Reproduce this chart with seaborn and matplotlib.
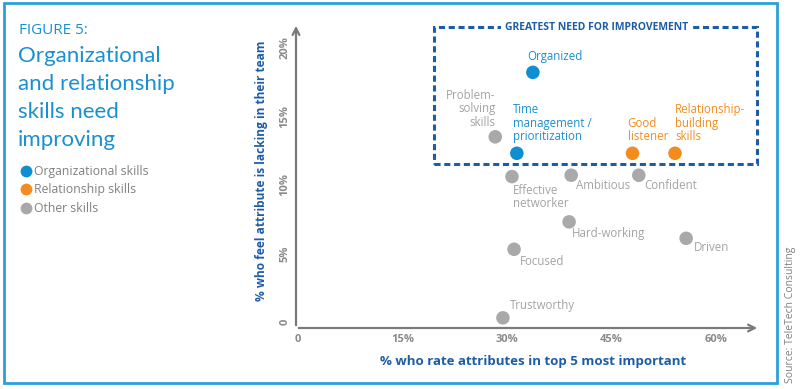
import matplotlib
matplotlib.use('Agg')
import matplotlib.pyplot as plt
import seaborn as sns
import pandas as pd
from matplotlib.patches import Rectangle

# Data (% values)
skills = ['Organized', 'Problem-\nsolving\nskills', 'Time\nmanagement /\nprioritization',
          'Good\nlistener', 'Relationship-\nbuilding\nskills', 'Effective\nnetworker',
          'Ambitious', 'Confident', 'Hard-working', 'Driven', 'Focused', 'Trustworthy']
top5_pct = [33.7, 28.3, 31.4, 48.0, 54.1, 30.7, 39.2, 48.9, 38.9, 55.7, 31.0, 29.4]
lacking_pct = [18.2, 13.5, 12.3, 12.3, 12.3, 10.6, 10.7, 10.7, 7.3, 6.1, 5.3, 0.3]
groups = ['Organizational skills', 'Other skills', 'Organizational skills',
          'Relationship skills', 'Relationship skills', 'Other skills',
          'Other skills', 'Other skills', 'Other skills', 'Other skills',
          'Other skills', 'Other skills']
group_order = ['Organizational skills', 'Relationship skills', 'Other skills']
x_ticks = [0, 15, 30, 45, 60]
x_ticklabels = ['0', '15%', '30%', '45%', '60%']
y_ticks = [0, 5, 10, 15, 20]
y_ticklabels = ['0', '5%', '10%', '15%', '20%']

df = pd.DataFrame({'skill': skills, 'top5': top5_pct, 'lacking': lacking_pct, 'group': groups})

BLUE = '#0f8fd2'
ORANGE = '#f28c1e'
GREY = '#a9a9ab'
DARK = '#1d5da6'
TITLE = '#1a90d0'
palette = {'Organizational skills': BLUE, 'Relationship skills': ORANGE, 'Other skills': GREY}
text_col = {'Organizational skills': '#1a8fcf', 'Relationship skills': ORANGE, 'Other skills': '#a3a3a5'}

sns.set_style('white')
plt.rcParams['font.family'] = ['Open Sans', 'DejaVu Sans']

fig = plt.figure(figsize=(8, 3.89), dpi=100)
ax = fig.add_axes([296 / 800, 1 - 328 / 389, 464 / 800, 305 / 389])

sns.scatterplot(data=df, x='top5', y='lacking', hue='group', hue_order=group_order,
                palette=palette, s=95, edgecolor='none', ax=ax, legend=True, zorder=3)

ax.set_xlim(-0.3, 66.3)
ax.set_ylim(-0.44, 21.8)
for sp in ax.spines.values():
    sp.set_visible(False)
ax.set_xticks(x_ticks)
ax.set_xticklabels(x_ticklabels, fontsize=8, color='#8a8a8a', fontweight='bold')
ax.set_yticks(y_ticks)
ax.set_yticklabels(y_ticklabels, fontsize=8, color='#8a8a8a', fontweight='bold',
                   rotation=90, va='center')
ax.tick_params(length=0, pad=4)

# axis arrows
arrow = dict(arrowstyle='->', color='#7a7a7a', lw=1.6, mutation_scale=12)
ax.annotate('', xy=(1, 0), xytext=(0, 0), xycoords='axes fraction', arrowprops=arrow)
ax.annotate('', xy=(0, 1), xytext=(0, 0), xycoords='axes fraction', arrowprops=arrow)

ax.set_xlabel('% who rate attributes in top 5 most important', color=DARK,
              fontweight='bold', fontsize=9.5)
ax.set_ylabel('% who feel attribute is lacking in their team', color=DARK,
              fontweight='bold', fontsize=8.6)
ax.xaxis.set_label_coords(0.51, -0.09)
ax.yaxis.set_label_coords(-0.06, 0.515)

# point labels: (dx, dy pixels, ha, va)
offsets = {
    'Organized': (-6, 16, 'left', 'center'),
    'Problem-\nsolving\nskills': (0, 8, 'right', 'bottom'),
    'Time\nmanagement /\nprioritization': (-4, 10, 'left', 'bottom'),
    'Good\nlistener': (-5, 10, 'left', 'bottom'),
    'Relationship-\nbuilding\nskills': (0, 10, 'left', 'bottom'),
    'Effective\nnetworker': (1, -7, 'left', 'top'),
    'Ambitious': (5, -10, 'left', 'center'),
    'Confident': (5, -10, 'left', 'center'),
    'Hard-working': (3, -12, 'left', 'center'),
    'Driven': (8, -9, 'left', 'center'),
    'Focused': (6, -12, 'left', 'center'),
    'Trustworthy': (7, 12, 'left', 'center'),
}
for _, r in df.iterrows():
    dx, dy, ha, va = offsets[r['skill']]
    ax.annotate(r['skill'], xy=(r['top5'], r['lacking']), xytext=(dx, dy),
                textcoords='offset pixels', ha=ha, va=va, multialignment=ha,
                fontsize=8.3, color=text_col[r['group']], linespacing=1.05, zorder=4)

# "greatest need" box
ax.add_patch(Rectangle((19.5, 11.5), 46.4, 10.0, fill=False, ec=DARK, lw=2.2,
                       ls=(0, (2, 1.2)), zorder=2, clip_on=False))
ax.text(42.8, 21.5, 'GREATEST NEED FOR IMPROVEMENT', ha='center', va='center',
        fontsize=7.5, fontweight='bold', color=DARK, zorder=3,
        bbox=dict(fc='white', ec='none', pad=2.5))

# legend on the left side
leg = ax.legend(loc='upper left', bbox_to_anchor=(14 / 800, 1 - 160 / 389),
                bbox_transform=fig.transFigure, frameon=False, fontsize=8.8,
                handletextpad=0.1, labelspacing=0.45, borderaxespad=0,
                labelcolor='#808080', handlelength=1.1)
for h in leg.legend_handles:
    h.set_markersize(8.5)

# title block
fig.text(19 / 800, 1 - 30 / 389, 'FIGURE 5:', fontsize=11, color=TITLE, va='center')
fig.text(18 / 800, 1 - 46 / 389, 'Organizational\nand relationship\nskills need\nimproving',
         fontsize=16, color=TITLE, va='top', linespacing=1.5, family=['Lato', 'DejaVu Sans'])

fig.text(790 / 800, 1 - 383 / 389, 'Source: TeleTech Consulting', rotation=90,
         fontsize=7.5, color='#808080', ha='center', va='bottom')

# outer frame
fig.add_artist(Rectangle((4 / 800, 1 - 383 / 389), 773 / 800, 380 / 389,
                         transform=fig.transFigure, fill=False, ec='#2aa0da', lw=2))

fig.savefig('out.png', dpi=100)
